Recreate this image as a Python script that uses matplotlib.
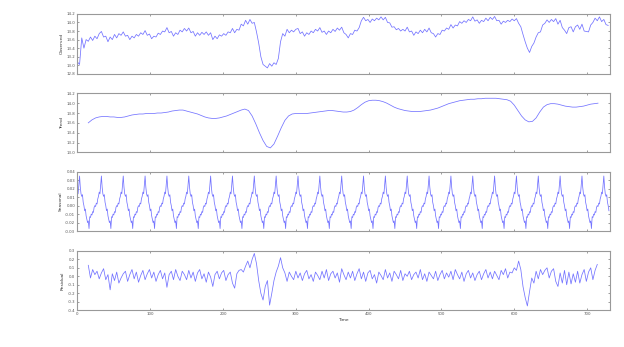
import numpy as np
import matplotlib.pyplot as plt

# observed series, read every 3 days (x = 0, 3, ..., 729)
observed = [
    13.08, 13.02, 13.64, 13.40, 13.60, 13.56, 13.66, 13.58, 13.68, 13.62,
    13.74, 13.79, 13.66, 13.68, 13.55, 13.66, 13.60, 13.72, 13.64, 13.74,
    13.70, 13.78, 13.68, 13.70, 13.60, 13.68, 13.64, 13.72, 13.68, 13.76,
    13.72, 13.81, 13.70, 13.73, 13.62, 13.68, 13.66, 13.75, 13.72, 13.80,
    13.78, 13.88, 13.76, 13.79, 13.68, 13.76, 13.72, 13.82, 13.78, 13.86,
    13.80, 13.87, 13.76, 13.79, 13.68, 13.76, 13.70, 13.77, 13.72, 13.78,
    13.70, 13.76, 13.60, 13.68, 13.62, 13.71, 13.68, 13.74, 13.70, 13.78,
    13.76, 13.86, 13.76, 13.84, 13.82, 13.96, 13.92, 14.05, 13.96, 14.07,
    13.98, 14.00, 13.78, 13.52, 13.20, 13.02, 12.98, 12.94, 13.04, 12.98,
    13.06, 13.02, 13.16, 13.55, 13.74, 13.68, 13.84, 13.76, 13.82, 13.78,
    13.84, 13.86, 13.74, 13.78, 13.68, 13.76, 13.72, 13.80, 13.76, 13.84,
    13.80, 13.88, 13.77, 13.80, 13.72, 13.80, 13.76, 13.84, 13.79, 13.87,
    13.82, 13.89, 13.76, 13.72, 13.64, 13.74, 13.72, 13.82, 13.80, 13.88,
    14.04, 14.12, 14.04, 14.07, 14.00, 14.08, 14.04, 14.10, 14.06, 14.13,
    14.06, 14.12, 14.00, 13.99, 13.89, 13.90, 13.83, 13.86, 13.80, 13.84,
    13.80, 13.89, 13.78, 13.80, 13.70, 13.78, 13.74, 13.82, 13.76, 13.84,
    13.78, 13.87, 13.76, 13.74, 13.66, 13.74, 13.72, 13.82, 13.80, 13.87,
    13.84, 13.95, 13.87, 13.94, 13.92, 14.02, 13.98, 14.04, 14.00, 14.07,
    14.04, 14.13, 14.03, 14.06, 13.98, 14.05, 14.02, 14.10, 14.04, 14.12,
    14.07, 14.14, 14.04, 14.05, 13.96, 14.03, 14.00, 14.05, 14.02, 14.08,
    14.04, 14.09, 13.98, 13.90, 13.72, 13.55, 13.40, 13.30, 13.44, 13.52,
    13.66, 13.76, 13.78, 13.94, 13.98, 14.06, 14.00, 14.07, 14.02, 14.09,
    13.96, 14.05, 13.88, 13.82, 13.74, 13.88, 13.90, 13.78, 13.90, 13.94,
    13.84, 13.96, 13.80, 13.79, 13.78, 13.94, 14.00, 14.10, 14.04, 14.13,
    14.02, 14.07, 13.95, 13.93,
]

# trend, every 5 days from day 15 to day 715
trend = [
    13.60, 13.66, 13.70, 13.72, 13.73, 13.73, 13.72, 13.72, 13.71, 13.71,
    13.72, 13.74, 13.76, 13.77, 13.78, 13.78, 13.79, 13.79, 13.79, 13.80,
    13.80, 13.81, 13.82, 13.84, 13.85, 13.86, 13.86, 13.84, 13.82, 13.80,
    13.78, 13.75, 13.72, 13.70, 13.69, 13.69, 13.70, 13.72, 13.74, 13.77,
    13.80, 13.83, 13.86, 13.88, 13.85, 13.74, 13.58, 13.40, 13.24, 13.12,
    13.09, 13.17, 13.33, 13.50, 13.65, 13.74, 13.78, 13.79, 13.79, 13.79,
    13.79, 13.80, 13.81, 13.82, 13.83, 13.84, 13.85, 13.85, 13.84, 13.83,
    13.82, 13.82, 13.83, 13.86, 13.91, 13.97, 14.02, 14.05, 14.06, 14.06,
    14.05, 14.03, 14.00, 13.96, 13.92, 13.89, 13.87, 13.85, 13.84, 13.83,
    13.83, 13.83, 13.84, 13.85, 13.86, 13.88, 13.90, 13.93, 13.96, 13.99,
    14.01, 14.03, 14.05, 14.06, 14.07, 14.08, 14.08, 14.09, 14.09, 14.10,
    14.10, 14.10, 14.10, 14.09, 14.08, 14.07, 14.04, 13.96, 13.85, 13.74,
    13.66, 13.62, 13.63, 13.70, 13.82, 13.92, 13.97, 13.99, 13.99, 13.98,
    13.96, 13.94, 13.93, 13.92, 13.92, 13.93, 13.94, 13.96, 13.98, 13.99,
    14.00,
]

# one 30-day seasonal cycle, starting at day 0
season_cycle = [
    0.016, 0.014, 0.024, 0.035, 0.022, 0.014, 0.011, 0.013, 0.004, 0.000,
    -0.006, -0.004, -0.012, -0.016, -0.020, -0.018, -0.027, -0.013, -0.014, -0.010,
    -0.011, -0.007, -0.008, -0.002, 0.000, -0.001, 0.003, 0.002, 0.008, 0.011,
]

# residual, every 3 days from day 15 to day 714
resid = [
    0.13, -0.02, 0.08, 0.02, 0.06, -0.03, 0.04, 0.09, -0.04, 0.02,
    -0.16, 0.03, -0.05, 0.05, -0.08, -0.02, 0.03, 0.06, -0.06, 0.02,
    0.08, -0.03, 0.05, -0.07, 0.01, 0.07, -0.04, 0.03, 0.08, -0.02,
    0.05, -0.06, 0.02, 0.07, -0.03, 0.04, -0.13, 0.02, 0.06, -0.04,
    0.08, 0.00, -0.05, 0.06, 0.02, -0.04, 0.07, -0.02, 0.05, -0.06,
    0.04, 0.08, -0.03, 0.03, -0.07, 0.05, -0.01, -0.12, 0.02, 0.06,
    -0.03, 0.04, 0.07, -0.05, 0.02, 0.05, -0.08, -0.14, 0.03, 0.07,
    0.08, 0.05, 0.12, 0.18, 0.10, 0.20, 0.27, 0.15, -0.05, -0.20,
    -0.28, -0.12, -0.05, -0.34, -0.20, -0.05, 0.05, 0.12, 0.22, 0.10,
    0.04, -0.06, 0.05, 0.00, -0.04, 0.06, -0.02, 0.04, -0.05, 0.03,
    0.07, -0.03, 0.02, -0.06, 0.05, 0.01, -0.04, 0.06, -0.02, 0.08,
    -0.05, 0.03, 0.06, -0.02, 0.04, -0.07, 0.09, 0.02, -0.04, 0.05,
    -0.02, 0.06, -0.05, 0.03, 0.09, -0.03, 0.05, -0.06, 0.04, 0.07,
    -0.03, 0.02, -0.08, 0.05, 0.01, -0.04, 0.08, -0.02, 0.04, -0.06,
    0.06, 0.02, -0.03, 0.07, -0.05, 0.03, 0.00, 0.06, -0.04, 0.02,
    0.05, -0.02, 0.08, -0.04, 0.03, -0.06, 0.05, 0.01, -0.03, 0.06,
    -0.05, 0.02, 0.07, -0.03, 0.04, -0.01, 0.06, -0.04, 0.08, 0.02,
    -0.03, 0.05, -0.06, 0.03, 0.07, -0.02, 0.04, -0.05, 0.02, 0.06,
    -0.04, 0.03, 0.08, -0.02, 0.05, -0.03, 0.06, 0.01, -0.04, 0.07,
    0.02, 0.09, -0.02, 0.05, 0.04, 0.10, 0.07, 0.18, 0.08, -0.12,
    -0.25, -0.35, -0.18, -0.02, -0.08, 0.06, -0.03, 0.08, 0.02, 0.07,
    0.10, -0.02, 0.06, 0.09, -0.06, -0.12, 0.04, -0.08, 0.07, -0.10,
    0.05, -0.09, 0.03, -0.07, 0.06, -0.08, 0.02, 0.08, -0.06, 0.05,
    0.10, -0.04, 0.07, 0.14,
]

n_days = 731
x_obs = np.arange(len(observed)) * 3
x_trend = 15 + np.arange(len(trend)) * 5
x_season = np.arange(n_days)
seasonal = np.tile(season_cycle, n_days // len(season_cycle) + 1)[:n_days]
x_resid = 15 + np.arange(len(resid)) * 3

panels = [
    (x_obs, observed, 'Observed', (12.8, 14.2), np.arange(12.8, 14.21, 0.2), '%.1f'),
    (x_trend, trend, 'Trend', (13.0, 14.2), np.arange(13.0, 14.21, 0.2), '%.1f'),
    (x_season, seasonal, 'Seasonal', (-0.03, 0.04), np.arange(-0.03, 0.041, 0.01), '%.2f'),
    (x_resid, resid, 'Residual', (-0.4, 0.3), np.arange(-0.4, 0.31, 0.1), '%.1f'),
]

# axes boxes in figure fraction [left, bottom, width, height]
boxes = [
    [0.124, 0.787, 0.853, 0.173],
    [0.124, 0.561, 0.853, 0.170],
    [0.124, 0.334, 0.853, 0.171],
    [0.124, 0.106, 0.853, 0.171],
]

fig = plt.figure(figsize=(6.24, 3.47), dpi=100)
line_color = '#7373ff'
frame_color = '#999999'

for i, (xs, ys, label, ylim, yticks, fmt) in enumerate(panels):
    ax = fig.add_axes(boxes[i])
    ax.plot(xs, ys, color=line_color, linewidth=0.55)
    ax.set_xlim(0, 731)
    ax.set_ylim(*ylim)
    ax.set_yticks(yticks)
    ax.set_yticklabels([fmt % v if abs(v) > 1e-9 else fmt % 0 for v in yticks])
    ax.set_xticks(np.arange(0, 701, 100))
    ax.set_ylabel(label, fontsize=3.2, color='#333333', labelpad=2)
    ax.tick_params(direction='in', length=1.5, width=0.4, labelsize=2.8,
                   colors='#555555', top=True, right=True, pad=1.5)
    for sp in ax.spines.values():
        sp.set_color(frame_color)
        sp.set_linewidth(0.8)
    if i < 3:
        ax.set_xticklabels([])
    else:
        ax.set_xlabel('Time', fontsize=3.2, color='#333333', labelpad=1)

fig.savefig('out.png', dpi=100)
